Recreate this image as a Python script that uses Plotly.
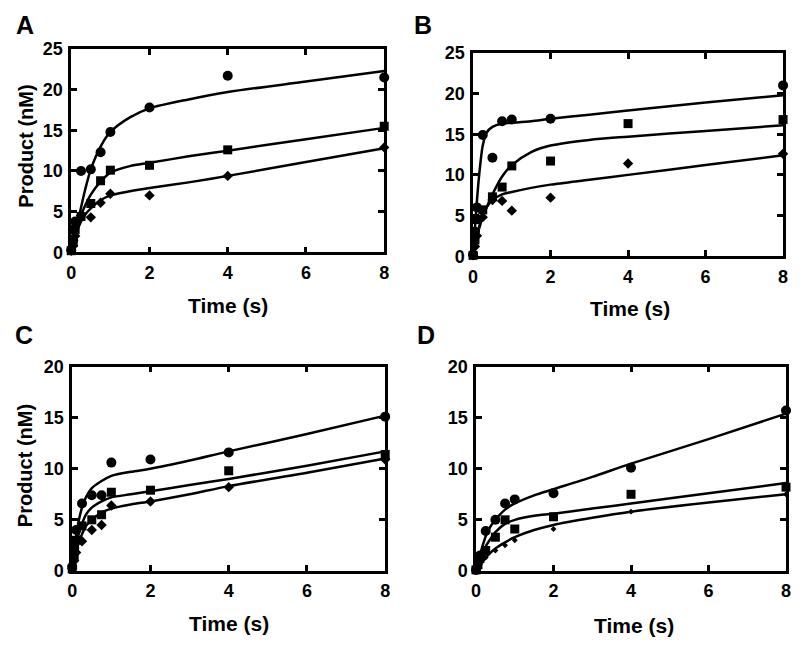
import plotly.graph_objects as go

# time points of the measurements (s)
t_data = [0, 0.05, 0.1, 0.25, 0.5, 0.75, 1, 2, 4, 8]
t_fit = [0, 0.05, 0.1, 0.15, 0.25, 0.35, 0.5, 0.75, 1, 1.5, 2, 3, 4, 6, 8]

# Panel A
a_circ = [0.3, 1.5, 3.8, 10.0, 10.2, 12.3, 14.8, 17.8, 21.7, 21.5]
a_sq = [0.2, 1.2, 2.8, 4.4, 6.0, 8.8, 10.1, 10.7, 12.6, 15.5]
a_dia = [0.2, 0.8, 2.0, 4.5, 4.3, 6.1, 7.2, 7.0, 9.4, 12.9]
a_circ_fit = [0, 1.2, 2.3, 3.4, 5.5, 7.6, 10.2, 13.0, 14.8, 16.6, 17.7, 18.8, 19.7, 21.0, 22.3]
a_sq_fit = [0, 1.0, 2.0, 2.9, 4.5, 5.7, 7.1, 8.7, 9.8, 10.6, 11.0, 11.8, 12.5, 13.9, 15.3]
a_dia_fit = [0, 0.9, 1.8, 2.6, 3.8, 4.6, 5.4, 6.4, 7.0, 7.5, 7.9, 8.6, 9.4, 11.1, 12.8]

# Panel B
b_circ = [0.2, 3.0, 6.0, 14.9, 12.1, 16.6, 16.8, 16.9, None, 21.0]
b_sq = [0.1, 2.0, 4.5, 5.7, 7.3, 8.5, 11.1, 11.7, 16.3, 16.8]
b_dia = [0.1, 1.2, 2.5, 4.8, 6.9, 6.8, 5.6, 7.2, 11.4, 12.6]
b_circ_fit = [0, 3.5, 6.8, 9.6, 13.6, 15.2, 15.9, 16.3, 16.4, 16.6, 16.9, 17.4, 17.9, 18.9, 19.8]
b_sq_fit = [0, 1.2, 2.4, 3.3, 4.8, 6.0, 7.6, 9.8, 11.2, 12.8, 13.6, 14.3, 14.7, 15.4, 16.1]
b_dia_fit = [0, 1.4, 2.6, 3.5, 5.0, 6.0, 6.9, 7.6, 7.9, 8.4, 8.8, 9.4, 10.0, 11.2, 12.4]

# Panel C
c_circ = [0.4, 2.2, 4.0, 6.6, 7.4, 7.4, 10.6, 10.9, 11.6, 15.1]
c_sq = [0.2, 1.5, 3.0, 4.4, 5.0, 5.5, 7.7, 7.9, 9.8, 11.4]
c_dia = [0.2, 1.0, 1.8, 2.9, 4.0, 4.5, 6.4, 6.8, 8.2, 10.9]
c_circ_fit = [0, 1.8, 3.4, 4.6, 6.2, 7.2, 8.1, 8.8, 9.3, 9.7, 10.0, 10.8, 11.7, 13.4, 15.2]
c_sq_fit = [0, 1.3, 2.4, 3.4, 4.6, 5.5, 6.2, 6.8, 7.2, 7.5, 7.8, 8.4, 9.0, 10.3, 11.7]
c_dia_fit = [0, 1.0, 1.9, 2.6, 3.6, 4.4, 5.0, 5.7, 6.1, 6.5, 6.8, 7.5, 8.3, 9.6, 11.0]

# Panel D
d_circ = [0.1, 0.8, 1.5, 3.9, 5.0, 6.6, 7.0, 7.6, 10.1, 15.7]
d_sq = [0.1, 0.6, 1.2, 2.0, 3.3, 5.0, 4.1, 5.3, 7.5, 8.2]
d_dia = [0.0, 0.4, 0.8, 1.3, 2.0, 2.5, 3.0, 4.1, 5.8, 7.5]
d_circ_fit = [0, 0.8, 1.5, 2.2, 3.4, 4.2, 5.0, 6.0, 6.6, 7.4, 8.0, 9.2, 10.5, 12.9, 15.4]
d_sq_fit = [0, 0.6, 1.1, 1.6, 2.4, 3.0, 3.8, 4.6, 5.0, 5.4, 5.6, 6.1, 6.6, 7.6, 8.6]
d_dia_fit = [0, 0.3, 0.6, 0.8, 1.3, 1.7, 2.2, 2.8, 3.3, 4.0, 4.5, 5.2, 5.8, 6.7, 7.5]

x_ticks = [0, 2, 4, 6, 8]

FONT = "Liberation Sans, Arial, sans-serif"

# the page body keeps its default 8px margin, so the figure is 16px smaller
W, H, OFF = 784, 631, 8


def px_x(x):
    return min(1.0, max(0.0, (x - OFF) / W))


def px_y(y):
    return min(1.0, max(0.0, 1 - (y - OFF) / H))


panels = [
    # data, fits, ymax, left/right/top/bottom in window pixels, diamond size
    ((a_circ, a_sq, a_dia), (a_circ_fit, a_sq_fit, a_dia_fit), 25, (67, 384, 40, 250), 8),
    ((b_circ, b_sq, b_dia), (b_circ_fit, b_sq_fit, b_dia_fit), 25, (474, 788, 44, 254), 8),
    ((c_circ, c_sq, c_dia), (c_circ_fit, c_sq_fit, c_dia_fit), 20, (68, 385, 368, 579), 8),
    ((d_circ, d_sq, d_dia), (d_circ_fit, d_sq_fit, d_dia_fit), 20, (477, 791, 368, 579), 4.5),
]

fig = go.Figure()
layout = {}

for i, (data, fits, ymax, box, dsize) in enumerate(panels):
    n = "" if i == 0 else str(i + 1)
    xa, ya = "x" + n, "y" + n
    left, right, top, bottom = box

    for yfit in fits:
        fig.add_trace(go.Scatter(
            x=t_fit, y=yfit, xaxis=xa, yaxis=ya, mode="lines",
            line=dict(color="black", width=2.5, shape="spline", smoothing=0.8),
            showlegend=False, hoverinfo="skip", cliponaxis=False,
        ))

    for yvals, (sym, size) in zip(data, [("circle", 10), ("square", 9), ("diamond", dsize)]):
        fig.add_trace(go.Scatter(
            x=t_data, y=yvals, xaxis=xa, yaxis=ya, mode="markers",
            marker=dict(symbol=sym, size=size, color="black", line=dict(width=0)),
            showlegend=False, cliponaxis=False,
        ))

    axis_common = dict(
        showline=True, linecolor="black", linewidth=2.5, mirror="ticks",
        ticks="inside", ticklen=6, tickwidth=2.5, tickcolor="black",
        showgrid=False, zeroline=False,
        tickfont=dict(family=FONT, size=18, color="black", weight="bold"),
    )
    layout["xaxis" + n] = dict(
        axis_common, domain=[px_x(left), px_x(right)], range=[0, 8],
        tickvals=x_ticks, anchor=ya, ticklabelstandoff=2,
    )
    layout["yaxis" + n] = dict(
        axis_common, domain=[px_y(bottom), px_y(top)], range=[0, ymax],
        dtick=5, anchor=xa, ticklabelstandoff=2,
    )

annotations = []
for txt, x, y in [("A", 20, 15), ("B", 423, 15), ("C", 19, 335), ("D", 426, 335)]:
    annotations.append(dict(
        text=txt, x=px_x(x), y=px_y(y), xref="paper", yref="paper",
        showarrow=False, xanchor="center", yanchor="middle",
        font=dict(family=FONT, size=25, color="black", weight="bold"),
    ))

for x, y in [(226, 305), (633, 308), (227, 633), (637, 635)]:
    annotations.append(dict(
        text="Time (s)", x=px_x(x), y=px_y(y), xref="paper", yref="paper",
        showarrow=False, xanchor="center", yanchor="middle",
        font=dict(family=FONT, size=21, color="black", weight="bold"),
    ))

for x, y in [(21, 140), (21, 470)]:
    annotations.append(dict(
        text="Product (nM)", x=px_x(x), y=px_y(y), xref="paper", yref="paper",
        showarrow=False, xanchor="center", yanchor="middle", textangle=-90,
        font=dict(family=FONT, size=20, color="black", weight="bold"),
    ))

fig.update_layout(
    width=W, height=H,
    margin=dict(l=0, r=0, t=0, b=0),
    paper_bgcolor="white", plot_bgcolor="white",
    annotations=annotations,
    **layout,
)

fig.write_html("out.html")
